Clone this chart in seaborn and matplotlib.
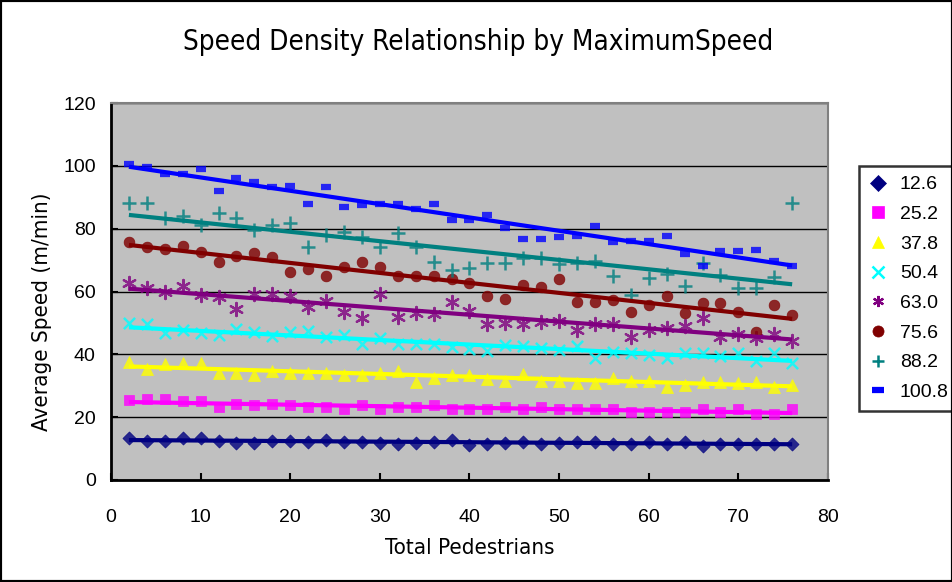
import numpy as np
import pandas as pd
import matplotlib
matplotlib.use("Agg")
import matplotlib.pyplot as plt
import seaborn as sns
from matplotlib.lines import Line2D
from matplotlib.patches import Rectangle
from matplotlib import font_manager

# ---------------- data ----------------
pedestrians = [2, 4, 6, 8, 10, 12, 14, 16, 18, 20, 22, 24, 26, 28, 30, 32, 34, 36, 38,
               40, 42, 44, 46, 48, 50, 52, 54, 56, 58, 60, 62, 64, 66, 68, 70, 72, 74, 76]

speed_12_6 = [13.3, 12.5, 12.5, 13.3, 13.3, 12.5, 11.9, 11.9, 12.5, 12.5, 12.2, 12.7, 12.2,
              12.2, 11.9, 11.5, 11.9, 12.2, 12.7, 11.1, 11.6, 11.9, 12.1, 11.6, 11.8, 12.1,
              12.1, 11.6, 11.6, 12.1, 11.6, 12.0, 10.8, 11.6, 11.6, 11.6, 11.6, 11.6]
speed_25_2 = [25.5, 25.7, 25.7, 25.3, 25.3, 23.1, 24.2, 23.8, 24.2, 23.8, 23.1, 23.1, 22.5,
              23.8, 22.5, 23.1, 23.1, 24.0, 22.5, 22.5, 22.5, 23.1, 22.5, 23.1, 22.5, 22.5,
              22.5, 22.5, 21.8, 21.8, 21.8, 21.8, 22.5, 21.8, 22.5, 21.0, 21.0, 22.5]
speed_37_8 = [37.7, 35.2, 36.9, 37.4, 37.4, 34.2, 34.2, 33.4, 34.8, 34.2, 34.2, 34.2, 33.4,
              33.4, 34.2, 34.8, 31.3, 32.4, 33.4, 33.4, 32.1, 31.6, 33.8, 31.6, 31.6, 31.0,
              31.0, 32.4, 31.6, 31.6, 29.7, 30.3, 31.3, 31.3, 31.0, 31.3, 29.7, 30.3]
speed_50_4 = [50.0, 49.7, 46.7, 47.8, 46.7, 46.3, 48.2, 47.0, 45.7, 47.0, 47.5, 45.5, 46.0,
              43.2, 45.1, 43.3, 43.3, 43.3, 42.3, 41.8, 41.2, 43.0, 42.7, 41.9, 41.4, 42.7,
              38.7, 40.9, 40.3, 39.8, 38.7, 40.3, 40.3, 39.5, 40.3, 38.0, 40.3, 37.4]
speed_63_0 = [62.8, 61.0, 59.7, 61.6, 58.9, 58.4, 54.4, 59.2, 59.2, 58.6, 55.2, 57.1, 53.6,
              51.5, 59.2, 52.0, 53.3, 52.9, 56.5, 53.9, 49.7, 50.1, 49.7, 50.4, 50.7, 47.8,
              49.7, 49.7, 45.6, 47.8, 48.3, 49.0, 51.5, 45.6, 46.5, 45.1, 46.5, 44.4]
speed_75_6 = [75.9, 74.1, 73.5, 74.5, 72.7, 69.5, 71.3, 72.2, 70.9, 66.3, 67.1, 65.0, 67.7,
              69.5, 67.7, 65.0, 64.8, 64.8, 63.9, 62.6, 58.6, 57.5, 62.1, 61.4, 63.9, 56.8,
              56.8, 57.3, 53.6, 55.7, 58.6, 53.1, 56.3, 56.3, 53.6, 47.2, 55.7, 52.5]
speed_88_2 = [88.3, 88.3, 83.3, 84.1, 81.2, 85.1, 83.3, 79.6, 81.2, 81.9, 74.1, 78.0, 78.8,
              77.5, 74.3, 78.6, 74.1, 69.5, 66.7, 67.4, 69.0, 69.0, 70.6, 70.6, 68.8, 69.2,
              69.8, 65.0, 58.9, 64.2, 65.6, 61.6, 69.0, 65.3, 61.0, 61.0, 64.5, 88.3]
speed_100_8 = [100.6, 99.6, 97.5, 97.3, 99.1, 92.0, 96.2, 95.0, 93.3, 93.5, 88.0, 93.4, 87.0,
               87.5, 88.0, 87.8, 86.2, 88.0, 82.6, 82.8, 84.3, 80.2, 76.8, 76.8, 77.5, 77.6,
               81.0, 75.8, 76.0, 76.0, 77.8, 71.8, 68.0, 73.0, 73.0, 73.2, 69.6, 68.0]

series_labels = ["12.6", "25.2", "37.8", "50.4", "63.0", "75.6", "88.2", "100.8"]
series_values = [speed_12_6, speed_25_2, speed_37_8, speed_50_4,
                 speed_63_0, speed_75_6, speed_88_2, speed_100_8]

x_ticks = [0, 10, 20, 30, 40, 50, 60, 70, 80]
y_ticks = [0, 20, 40, 60, 80, 100, 120]

# ---------------- styles ----------------
colors = ["#000080", "#FF00FF", "#FFFF00", "#00FFFF", "#800080", "#800000", "#008080", "#0000FF"]
markers = ["D", "s", "^", "x", (6, 2, 0), "o", "+", "_"]
msizes = [45, 50, 75, 65, 90, 60, 90, 45]
mlw = [0.5, 0.5, 0.5, 1.8, 1.6, 0.5, 1.8, 4.5]

# pick a narrow face for title / axis titles
ttf = font_manager.fontManager.ttflist
names = {f.name for f in ttf}
title_kw = None
if "Liberation Sans Narrow" in names:
    title_kw = dict(family="Liberation Sans Narrow", tsize=22, lsize=17)
elif any(f.name == "DejaVu Sans" and str(f.stretch) in ("condensed", "semi-condensed")
         for f in ttf):
    title_kw = dict(family="DejaVu Sans", stretch="condensed", tsize=20, lsize=16)
elif "Roboto Condensed" in names:
    title_kw = dict(family="Roboto Condensed", tsize=22, lsize=17)
else:
    title_kw = dict(family="Roboto" if "Roboto" in names else "DejaVu Sans", tsize=19, lsize=16)
tsize = title_kw.pop("tsize")
lsize = title_kw.pop("lsize")
tick_font = "Liberation Sans" if "Liberation Sans" in names else "DejaVu Sans"

df = pd.DataFrame({
    "pedestrians": np.tile(pedestrians, len(series_labels)),
    "speed": np.concatenate([np.array(v, dtype=float) for v in series_values]),
    "series": np.repeat(series_labels, len(pedestrians)),
})

fig = plt.figure(figsize=(9.53, 5.82), dpi=100)
fig.patch.set_facecolor("white")
ax = fig.add_axes([111 / 953, 1 - 480 / 582, (828 - 111) / 953, (480 - 103) / 582])
ax.set_facecolor("#C0C0C0")

for lab, col, mk, ms, lw in zip(series_labels, colors, markers, msizes, mlw):
    sub = df[df["series"] == lab]
    filled = mk not in ("x", "+", "_") and not isinstance(mk, tuple)
    skw = dict(s=ms, color=col, zorder=3, linewidths=lw)
    if filled:
        skw["edgecolors"] = col
    sns.regplot(data=sub, x="pedestrians", y="speed", ax=ax, ci=None, marker=mk,
                scatter_kws=skw,
                line_kws=dict(color=col, lw=3.0, zorder=4, solid_capstyle="butt"))

ax.set_xlim(0, 80)
ax.set_ylim(0, 120)
ax.set_xticks(x_ticks)
ax.set_yticks(y_ticks)
ax.set_xticklabels([str(t) for t in x_ticks], fontsize=14, family=tick_font)
ax.set_yticklabels([str(t) for t in y_ticks], fontsize=14, family=tick_font)
ax.tick_params(axis="x", direction="in", length=5, width=1.5, pad=21, colors="black")
ax.tick_params(axis="y", direction="in", length=5, width=1.5, pad=11, colors="black")
ax.yaxis.grid(True, color="black", lw=1)
ax.xaxis.grid(False)
ax.set_axisbelow(True)
ax.set_xlabel("")
ax.set_ylabel("")
for side in ["left", "bottom"]:
    ax.spines[side].set_color("black")
    ax.spines[side].set_linewidth(2)
for side in ["top", "right"]:
    ax.spines[side].set_color("#808080")
    ax.spines[side].set_linewidth(1.5)

fig.text(0.502, 1 - 42 / 582, "Speed Density Relationship by MaximumSpeed",
         ha="center", va="center", fontsize=tsize, **title_kw)
fig.text(470 / 953, 1 - 548 / 582, "Total Pedestrians", ha="center", va="center",
         fontsize=lsize, **title_kw)
fig.text(42 / 953, 1 - 312 / 582, "Average Speed (m/min)", ha="center", va="center",
         rotation=90, fontsize=lsize, **title_kw)

handles = []
for col, mk, lw in zip(colors, markers, mlw):
    handles.append(Line2D([], [], linestyle="none", marker=mk, color=col,
                          markersize=8, markeredgewidth=lw if lw > 1 else 0.5))
leg = fig.legend(handles, series_labels, loc="upper left",
                 bbox_to_anchor=(859 / 953, 1 - 166 / 582), frameon=True,
                 fancybox=False, edgecolor="black",
                 prop={"family": tick_font, "size": 14},
                 labelspacing=0.62, handlelength=1.0, handletextpad=0.6,
                 borderpad=0.5, borderaxespad=0)
leg.get_frame().set_linewidth(1.8)

fig.patches.append(Rectangle((0, 0), 1, 1, transform=fig.transFigure, fill=False,
                             ec="black", lw=3, zorder=10))

fig.savefig("out.png", dpi=100, facecolor="white")
